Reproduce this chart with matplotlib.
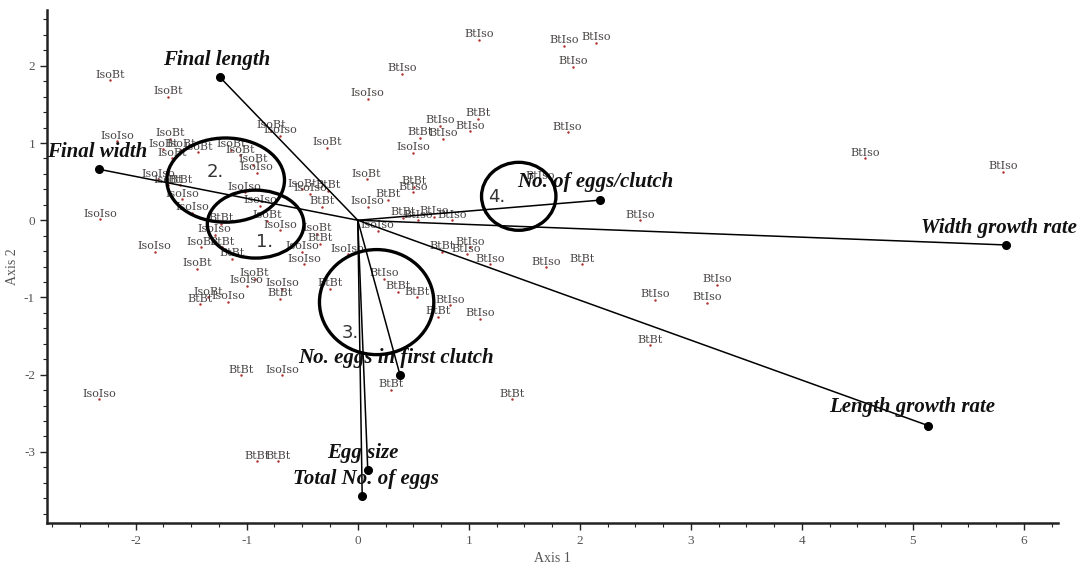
import matplotlib
matplotlib.use("Agg")
import matplotlib.pyplot as plt
from matplotlib.patches import Ellipse
from matplotlib.ticker import MultipleLocator

plt.rcParams["axes.unicode_minus"] = False

# sample scores (axis 1, axis 2) with their group label
labels = [
    "IsoBt", "IsoBt", "IsoIso", "BtIso", "BtIso", "BtIso", "BtIso", "BtIso",
    "BtBt", "BtIso", "BtIso", "BtBt", "BtIso", "IsoIso", "IsoBt", "IsoBt",
    "IsoIso", "BtIso", "BtIso", "BtIso", "IsoIso", "IsoBt", "IsoBt", "IsoBt",
    "IsoBt", "IsoBt", "IsoBt", "IsoBt", "IsoBt", "IsoIso", "IsoIso", "IsoBt",
    "BtBt", "IsoIso", "IsoIso", "IsoIso", "IsoIso", "IsoBt", "BtBt", "IsoIso",
    "IsoIso", "IsoIso", "IsoIso", "IsoBt", "BtBt", "BtBt", "IsoBt", "IsoIso",
    "IsoIso", "IsoBt", "IsoIso", "IsoIso", "BtBt", "IsoBt", "BtBt", "IsoIso",
    "IsoBt", "IsoIso", "BtBt", "BtBt", "IsoBt", "BtBt", "BtIso", "BtBt",
    "IsoIso", "BtBt", "BtIso", "BtIso", "BtIso", "IsoIso", "IsoBt", "BtBt",
    "IsoIso", "BtIso", "BtBt", "BtBt", "BtBt", "BtBt", "BtIso", "BtIso",
    "BtIso", "BtIso", "BtBt", "BtIso", "BtBt", "BtIso", "BtIso", "BtIso",
    "BtIso", "BtIso", "BtIso", "BtBt", "BtBt", "IsoIso", "IsoIso", "BtBt",
    "BtBt", "BtBt", "BtBt",
]
axis1 = [
    -2.23, -1.71, 0.09, 0.40, 1.09, 1.86, 2.15, 1.94,
    1.08, 0.74, 1.01, 0.56, 0.77, 0.50, -0.28, -0.78,
    -0.70, 1.89, 4.57, 5.81, -2.17, -1.69, -1.75, -1.59,
    -1.44, -1.67, -1.14, -1.06, -0.94, -0.91, -1.80, -1.71,
    -1.60, -1.02, -1.58, -0.88, -1.49, -0.82, -1.23, -1.29,
    -0.70, -2.32, -1.83, -1.41, -1.22, -1.13, -1.45, -0.50,
    -0.48, -0.93, -1.00, -0.68, -0.70, -1.35, -1.42, -1.17,
    -0.50, -0.43, -0.27, -0.32, 0.08, 0.51, 0.50, 0.27,
    0.09, 0.41, 0.54, 0.69, 0.85, 0.18, -0.37, -0.34,
    -0.09, 0.24, 0.36, 0.53, -0.25, 0.76, 1.01, 0.98,
    1.19, 1.70, 2.02, 0.83, 0.72, 1.10, 1.64, 2.54,
    3.24, 2.68, 3.15, 2.63, -1.05, -0.68, -2.33, 0.30,
    1.39, -0.91, -0.72,
]
axis2 = [
    1.81, 1.60, 1.57, 1.90, 2.34, 2.26, 2.30, 1.99,
    1.31, 1.22, 1.15, 1.07, 1.05, 0.87, 0.94, 1.16,
    1.09, 1.14, 0.80, 0.63, 1.02, 1.05, 0.92, 0.91,
    0.88, 0.80, 0.91, 0.84, 0.72, 0.61, 0.53, 0.45,
    0.45, 0.36, 0.27, 0.19, 0.10, -0.01, -0.05, -0.19,
    -0.13, 0.01, -0.41, -0.35, -0.35, -0.50, -0.63, -0.41,
    -0.57, -0.76, -0.85, -0.89, -1.02, -1.00, -1.09, -1.06,
    0.40, 0.34, 0.38, 0.17, 0.53, 0.43, 0.36, 0.26,
    0.17, 0.03, 0.00, 0.04, 0.00, -0.14, -0.18, -0.31,
    -0.44, -0.76, -0.93, -1.00, -0.89, -0.41, -0.35, -0.44,
    -0.57, -0.61, -0.57, -1.10, -1.25, -1.28, 0.50, 0.00,
    -0.84, -1.03, -1.07, -1.62, -2.01, -2.01, -2.32, -2.20,
    -2.32, -3.12, -3.12,
]

# variable loadings (biplot vectors)
var_names = ["Final length", "Final width", "No. of eggs/clutch", "Width growth rate",
             "Length growth rate", "No. eggs in first clutch", "Egg size", "Total No. of eggs"]
var_x = [-1.24, -2.33, 2.18, 5.84, 5.14, 0.38, 0.09, 0.04]
var_y = [1.85, 0.66, 0.26, -0.32, -2.66, -2.00, -3.23, -3.57]
name_x = [-1.27, -2.35, 2.14, 5.78, 4.99, 0.34, 0.05, 0.07]
name_y = [2.07, 0.88, 0.49, -0.10, -2.42, -1.79, -3.01, -3.35]

# hand drawn groups
grp_names = ["1.", "2.", "3.", "4."]
grp_cx = [-0.92, -1.19, 0.17, 1.45]
grp_cy = [-0.05, 0.52, -1.06, 0.31]
grp_w = [0.87, 1.06, 1.03, 0.67]
grp_h = [0.88, 1.09, 1.36, 0.88]
grp_lx = [-0.84, -1.28, -0.07, 1.25]
grp_ly = [-0.28, 0.62, -1.46, 0.30]

fig = plt.figure(figsize=(10.91, 5.66), dpi=100)
ax = fig.add_axes([0.043, 0.076, 0.927, 0.906])

txt_col = "#4a4545"
ax.scatter(axis1, axis2, s=0.6, color="#b03030", zorder=2)
for lab, x, y in zip(labels, axis1, axis2):
    ax.annotate(lab, (x, y), xytext=(0, 0.5), textcoords="offset points",
                ha="center", va="bottom", fontsize=8, family="DejaVu Serif",
                color=txt_col, zorder=3)

for x, y in zip(var_x, var_y):
    ax.plot([0, x], [0, y], color="black", lw=1.1, zorder=4)
    ax.plot(x, y, "o", color="black", ms=5.5, zorder=5)
for name, x, y in zip(var_names, name_x, name_y):
    ax.text(x, y, name, ha="center", va="center", fontsize=15,
            family="Liberation Serif", weight="bold", style="italic",
            color="#111111", zorder=6)

for g, cx, cy, w, h, lx, ly in zip(grp_names, grp_cx, grp_cy, grp_w, grp_h, grp_lx, grp_ly):
    ax.add_patch(Ellipse((cx, cy), w, h, fill=False, ec="black", lw=2.4, zorder=6))
    ax.text(lx, ly, g, ha="center", va="center", fontsize=13, color="#333333", zorder=6)

ax.set_xlim(-2.8, 6.31)
ax.set_ylim(-3.92, 2.72)
ax.xaxis.set_major_locator(MultipleLocator(1))
ax.xaxis.set_minor_locator(MultipleLocator(0.25))
ax.yaxis.set_major_locator(MultipleLocator(1))
ax.yaxis.set_minor_locator(MultipleLocator(0.2))
for s in ["top", "right"]:
    ax.spines[s].set_visible(False)
for s in ["left", "bottom"]:
    ax.spines[s].set_linewidth(1.8)
    ax.spines[s].set_color("#222222")
ax.tick_params(which="major", length=5, width=1, colors="#222222", labelcolor="#555555",
               labelsize=9.5, labelfontfamily="Liberation Serif")
ax.tick_params(which="minor", length=3, width=0.8, colors="#222222")
ax.set_xlabel("Axis 1", family="Liberation Serif", fontsize=10, color="#555555", labelpad=4)
ax.set_ylabel("Axis 2", family="Liberation Serif", fontsize=10, color="#555555")
ax.yaxis.set_label_coords(-0.028, 0.5)

fig.savefig("out.png", dpi=100)
